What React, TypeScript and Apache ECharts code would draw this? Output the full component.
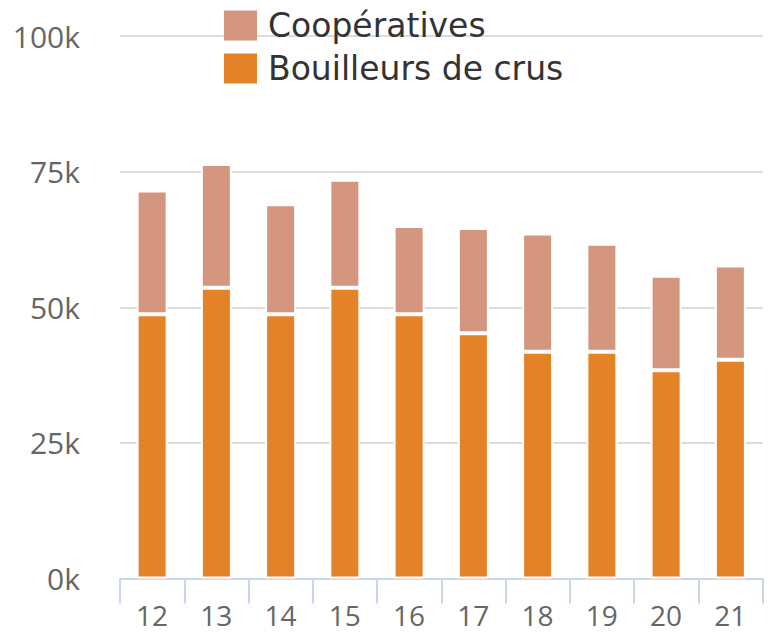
import React, { useEffect, useRef } from "react";
import * as echarts from "echarts";

const categories = ["12", "13", "14", "15", "16", "17", "18", "19", "20", "21"];
const bouilleurs = [48700, 53600, 48700, 53600, 48700, 45200, 41800, 41800, 38400, 40300];
const cooperatives = [22800, 22800, 20300, 19900, 16300, 19400, 21800, 19900, 17400, 17400];
const yTicks = { min: 0, max: 100000, interval: 25000 };

export default function App() {
  const ref = useRef<HTMLDivElement>(null);
  useEffect(() => {
    if (!ref.current) return;
    const chart = echarts.init(ref.current, null, { renderer: "svg" });
    const axisFont = "'Open Sans', sans-serif";
    chart.setOption({
      animation: false,
      backgroundColor: "#ffffff",
      grid: { left: 120, right: 8.5, top: 36, bottom: 53.5, containLabel: false },
      legend: {
        orient: "vertical",
        left: 224,
        top: 9,
        padding: 0,
        itemWidth: 33,
        itemHeight: 30,
        itemGap: 10,
        icon: "rect",
        data: ["Coopératives", "Bouilleurs de crus"],
        itemStyle: { borderWidth: 0 },
        textStyle: {
          fontFamily: "'DejaVu Sans', sans-serif",
          fontSize: 33,
          color: "#333333",
          lineHeight: 30,
          padding: [0, 0, 0, 6],
        },
      },
      xAxis: {
        type: "category",
        data: categories,
        boundaryGap: true,
        axisLine: { show: true, lineStyle: { color: "#ccd6eb", width: 2 } },
        axisTick: { show: true, length: 25, alignWithLabel: false, interval: 0, lineStyle: { color: "#ccd6eb", width: 2 } },
        axisLabel: { color: "#666666", fontSize: 28, lineHeight: 28, fontFamily: axisFont, margin: 22, interval: 0 },
        splitLine: { show: false },
      },
      yAxis: {
        type: "value",
        min: yTicks.min,
        max: yTicks.max,
        interval: yTicks.interval,
        axisLine: { show: false },
        axisTick: { show: false },
        axisLabel: {
          color: "#666666",
          fontSize: 30,
          fontFamily: axisFont,
          margin: 40,
          formatter: (v: number) => `${v / 1000}k`,
        },
        splitLine: { show: true, lineStyle: { color: "#dcdcdc", width: 2 } },
      },
      series: [
        {
          name: "Bouilleurs de crus",
          type: "bar",
          stack: "total",
          data: bouilleurs,
          barWidth: 31,
          itemStyle: { color: "#E38226", borderColor: "#ffffff", borderWidth: 2 },
        },
        {
          name: "Coopératives",
          type: "bar",
          stack: "total",
          data: cooperatives,
          barWidth: 31,
          itemStyle: { color: "#D4967E", borderColor: "#ffffff", borderWidth: 2 },
        },
      ],
    });
    return () => chart.dispose();
  }, []);
  return <div ref={ref} style={{ position: "fixed", left: 0, top: 0, width: 771, height: 632 }} />;
}
